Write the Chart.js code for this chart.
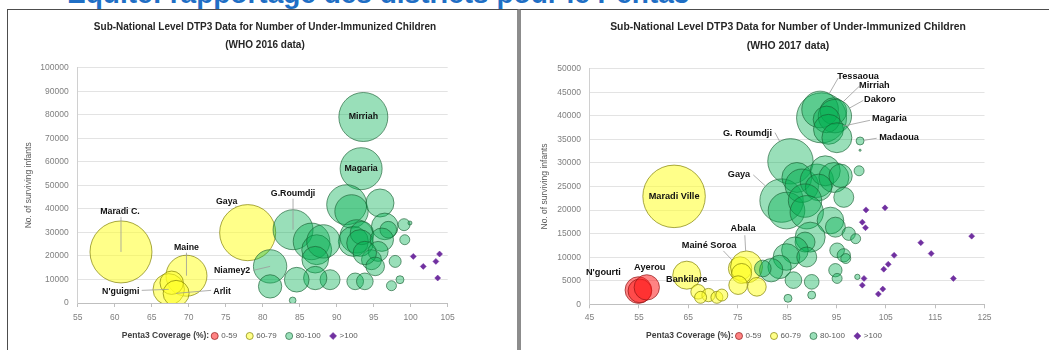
<!DOCTYPE html>
<html lang="fr">
<head>
<meta charset="utf-8">
<title>Penta3 – districts</title>
<script src="https://cdn.jsdelivr.net/npm/chart.js@4.4.1/dist/chart.umd.min.js"></script>
<style>
  html, body { margin: 0; padding: 0; background: #fff; }
  body { width: 1049px; height: 350px; overflow: hidden; position: relative; }
  #headline { position: absolute; left: 67px; top: -20px; margin: 0; font: bold 28px/28px 'Liberation Sans', Arial, sans-serif; color: #1f6fc5; white-space: nowrap; }
  .frame { position: absolute; top: 9px; height: 400px; box-sizing: border-box; }
  #frame16 { left: 7px; width: 512px; border: 1px solid #4d4d4d; border-right: 2px solid #8c8c8c; }
  #frame17 { left: 519px; width: 600px; border: 1px solid #4d4d4d; border-left: 2px solid #8c8c8c; }
  canvas { position: absolute; top: 10px; }
  #c2016 { left: 8px; }
  #c2017 { left: 523px; }
</style>
</head>
<body>
<h1 id="headline">Equité: rapportage des districts pour le Penta3</h1>
<div class="frame" id="frame16"></div>
<div class="frame" id="frame17"></div>
<canvas id="c2016" width="509" height="340"></canvas>
<canvas id="c2017" width="526" height="340"></canvas>
<script>
const FONT = "'Liberation Sans', Arial, sans-serif";

// Shared texts
const seriesNames = ['0-59', '60-79', '80-100', '>100'];
const xAxisCaption = 'Penta3 Coverage (%):';
const yAxisTitle = 'No. of surviving infants';

// ---------- 2016 ----------
const title2016 = ['Sub-National Level DTP3 Data for Number of Under-Immunized Children', '(WHO 2016 data)'];
const xTicks2016 = [55, 60, 65, 70, 75, 80, 85, 90, 95, 100, 105];
const yTicks2016 = [0, 10000, 20000, 30000, 40000, 50000, 60000, 70000, 80000, 90000, 100000];

// rows: [Penta3 coverage %, surviving infants, under-immunized children, district]
const red2016 = [];
const yellow2016 = [
  [60.85, 21700, 8560, 'Maradi C.'],
  [69.7, 11600, 3740, 'Maine'],
  [67.3, 5800, 2200, "N'guigmi"],
  [67.7, 8600, 1220],
  [68.3, 4100, 1500, 'Arlit'],
  [77.97, 29900, 7000, 'Gaya']
];
const green2016 = [
  [93.6, 79050, 5350, 'Mirriah'],
  [93.3, 57080, 3930, 'Magaria'],
  [91.35, 41780, 3560],
  [92.0, 38930, 2480],
  [95.85, 42500, 1750],
  [92.7, 28300, 2480],
  [92.25, 26180, 2000],
  [93.4, 29750, 1215],
  [93.15, 25500, 1580],
  [96.5, 32560, 1580],
  [96.97, 31150, 620],
  [96.1, 26900, 1215],
  [95.6, 21930, 890],
  [94.7, 18400, 890],
  [93.8, 21250, 1215],
  [95.2, 15560, 775],
  [97.9, 17680, 320],
  [99.1, 33280, 320],
  [99.2, 26900, 222],
  [99.9, 34000, 35],
  [98.55, 9900, 142],
  [97.4, 7350, 222],
  [92.5, 9200, 620],
  [93.8, 9200, 620],
  [84.1, 31150, 3560, 'G.Roumdji'],
  [86.6, 26180, 2990],
  [87.3, 22650, 2000],
  [88.2, 26180, 2480],
  [87.1, 18400, 1580],
  [89.1, 9900, 890],
  [87.1, 10620, 1215],
  [84.6, 9900, 1360],
  [81.0, 15560, 2480, 'Niamey2'],
  [81.0, 7060, 1215],
  [84.05, 1100, 100]
];
// rows: [Penta3 coverage %, surviving infants]
const purple2016 = [
  [100.35, 19800], [101.7, 15560], [103.4, 17680], [103.9, 20820], [103.65, 10620]
];

// ---------- 2017 ----------
const title2017 = ['Sub-National Level DTP3 Data for Number of Under-Immunized Children', '(WHO 2017 data)'];
const xTicks2017 = [45, 55, 65, 75, 85, 95, 105, 115, 125];
const yTicks2017 = [0, 5000, 10000, 15000, 20000, 25000, 30000, 35000, 40000, 45000, 50000];

const red2017 = [
  [54.9, 3020, 1580, "N'gourti"],
  [55.2, 2850, 1250],
  [56.6, 3590, 1430, 'Ayerou']
];
const yellow2017 = [
  [62.13, 22910, 8700, 'Maradi Ville'],
  [64.7, 6180, 1750, 'Bankilare'],
  [67.0, 2660, 475],
  [69.1, 1960, 395],
  [67.5, 1480, 320],
  [70.8, 1480, 320],
  [71.8, 1960, 320],
  [75.5, 7600, 1215, 'Mainé Soroa'],
  [76.8, 7930, 2280, 'Abala'],
  [75.8, 6540, 890],
  [75.1, 4070, 775],
  [78.9, 3710, 775]
];
const green2017 = [
  [92.0, 39580, 5570],
  [91.7, 41360, 2990, 'Tessaoua'],
  [94.4, 41000, 1580, 'Mirriah'],
  [94.7, 39940, 2480, 'Dakoro'],
  [93.0, 39250, 1580],
  [93.4, 37140, 2000, 'Magaria'],
  [95.1, 35360, 2000],
  [99.8, 34670, 142, 'Madaoua'],
  [99.8, 32700, 10],
  [85.7, 30350, 4590, 'G. Roumdji'],
  [83.9, 22010, 4200, 'Gaya'],
  [84.9, 19900, 2990],
  [87.0, 26920, 2000],
  [88.0, 25170, 2480],
  [91.05, 26230, 2480],
  [92.75, 28340, 2000],
  [94.5, 26920, 2000],
  [95.85, 27280, 1215],
  [91.4, 24810, 1580],
  [88.65, 22010, 2480],
  [89.0, 19540, 2480],
  [96.5, 22700, 890],
  [93.8, 17790, 1580],
  [94.8, 16370, 890],
  [97.5, 14980, 395],
  [98.9, 13930, 222],
  [99.6, 28340, 222],
  [89.7, 14260, 2000],
  [88.65, 13210, 890],
  [86.6, 11460, 1580],
  [84.9, 10040, 1580],
  [89.0, 10040, 890],
  [83.5, 7930, 1215],
  [81.8, 7240, 1215],
  [80.1, 7600, 620],
  [86.3, 5130, 620],
  [90.0, 4770, 480],
  [85.2, 1270, 142],
  [90.0, 1960, 142],
  [95.15, 11460, 480],
  [96.5, 10400, 395],
  [96.9, 9710, 222],
  [94.8, 7240, 395],
  [95.15, 5490, 222],
  [99.25, 5820, 63]
];
const purple2017 = [
  [101.0, 20040], [104.85, 20470], [100.25, 17430], [100.9, 16250],
  [112.1, 13080], [114.2, 10760], [106.7, 10400], [105.5, 8500],
  [104.6, 7450], [100.6, 5490], [100.25, 4070], [104.4, 3230],
  [103.5, 2170], [118.7, 5490], [122.4, 14470]
];

// Label placement (pixel offsets from the bubble centre; lead = start of leader line)
const placement2016 = {
  'Maradi C.': { dx: -1, dy: -40, lead: [0, -35] },
  'Maine': { dx: 0, dy: -28, lead: [0, -23] },
  "N'guigmi": { dx: -48, dy: 2.5, lead: [-27, 1] },
  'Arlit': { dx: 46, dy: -1.5, lead: [35, -3] },
  'Gaya': { dx: -21, dy: -31, lead: [-12, -27], edge: true },
  'Mirriah': { dx: 0, dy: 0 },
  'Magaria': { dx: 0, dy: 0 },
  'G.Roumdji': { dx: 0, dy: -36, lead: [0, -31] },
  'Niamey2': { dx: -38, dy: 4, lead: [-17, 4] }
};
const placement2017 = {
  'Maradi Ville': { dx: 0, dy: 0 },
  'Bankilare': { dx: 0, dy: 4 },
  "N'gourti": { dx: -35, dy: -18 },
  'Ayerou': { dx: 3, dy: -20 },
  'Mainé Soroa': { dx: -31, dy: -22.6, lead: [-16.7, -17.6], edge: true },
  'Abala': { dx: -3.4, dy: -38.4, lead: [-1.7, -31.7], edge: true },
  'G. Roumdji': { dx: -43, dy: -27.7, lead: [-15.5, -28.7], edge: true },
  'Gaya': { dx: -42.6, dy: -25.7, lead: [-28.3, -25.7], edge: true },
  'Tessaoua': { dx: 38, dy: -33.3, lead: [18.2, -31.6], edge: true },
  'Mirriah': { dx: 41, dy: -26, lead: [26, -25], edge: true },
  'Dakoro': { dx: 45, dy: -16.7, lead: [28.4, -15.7], edge: true },
  'Magaria': { dx: 61, dy: -11, lead: [41.5, -9], edge: true },
  'Madaoua': { dx: 39, dy: -4, lead: [16.6, -2.7], edge: true }
};

// Bubble area proportional to the number of under-immunized children
const SIZE_K = 0.335;

const seriesStyles = [
  { bg: 'rgba(255,30,30,0.55)', border: 'rgba(140,20,20,0.85)', style: 'circle' },
  { bg: 'rgba(255,255,40,0.55)', border: 'rgba(125,125,0,0.85)', style: 'circle' },
  { bg: 'rgba(0,176,80,0.4)', border: 'rgba(25,95,50,0.8)', style: 'circle' },
  { bg: '#7030A0', border: '#7030A0', style: 'rectRot' }
];

function makeDatasets(rowsList) {
  return rowsList.map((rows, k) => {
    const st = seriesStyles[k];
    const marker = k === 3;
    return {
      label: seriesNames[k],
      data: rows.map(r => marker ? { x: r[0], y: r[1] } : { x: r[0], y: r[1], r: SIZE_K * Math.sqrt(r[2]) }),
      backgroundColor: st.bg,
      borderColor: st.border,
      borderWidth: marker ? 0.5 : 0.8,
      pointStyle: st.style,
      radius: 3,
      order: 4 - k
    };
  });
}

function makeLabelItems(rowsList, placement) {
  const items = [];
  rowsList.forEach((rows, ds) => rows.forEach((row, i) => {
    const name = row[3];
    if (name && placement[name]) items.push(Object.assign({ ds, i, text: name }, placement[name]));
  }));
  return items;
}

// Draws the x-axis caption on the legend row, keeping caption + legend centred together
const legendCaption = {
  id: 'legendCaption',
  afterLayout(chart, args, o) {
    const lg = chart.legend;
    if (!lg || !lg.lineWidths) return;
    const ctx = chart.ctx;
    ctx.save(); ctx.font = o.font; const tw = ctx.measureText(o.text).width; ctx.restore();
    const pad = lg.options.labels.padding;
    const itemsW = lg.lineWidths[0] - pad;
    const groupW = tw + o.gap + itemsW;
    const centre = (chart.chartArea.left + chart.chartArea.right) / 2 + o.shift;
    const wantLeft = centre - groupW / 2 + tw + o.gap;
    const nowLeft = (lg.left + lg.right) / 2 - itemsW / 2;
    const dx = wantLeft - nowLeft;
    lg.left += dx; lg.right += dx;
  },
  afterDraw(chart, args, o) {
    const lg = chart.legend;
    const hb = lg && lg.legendHitBoxes && lg.legendHitBoxes[0];
    if (!hb) return;
    const ctx = chart.ctx;
    ctx.save();
    ctx.font = o.font; ctx.fillStyle = o.color;
    ctx.textAlign = 'right'; ctx.textBaseline = 'middle';
    ctx.fillText(o.text, hb.left - o.gap, hb.top + hb.height / 2);
    ctx.restore();
  }
};

// District names next to their bubbles, with optional leader lines
const pointLabels = {
  id: 'pointLabels',
  afterDatasetsDraw(chart, args, o) {
    const ctx = chart.ctx;
    ctx.save();
    ctx.font = o.font; ctx.fillStyle = o.color;
    ctx.textAlign = 'center'; ctx.textBaseline = 'middle';
    ctx.strokeStyle = o.leadColor; ctx.lineWidth = o.leadWidth;
    for (const it of o.items) {
      const el = chart.getDatasetMeta(it.ds).data[it.i];
      if (!el) continue;
      const px = el.x, py = el.y, r = el.options.radius;
      if (it.lead) {
        const sx = px + it.lead[0], sy = py + it.lead[1];
        let ex = px, ey = py;
        if (it.edge) {
          const d = Math.hypot(sx - px, sy - py) || 1;
          ex = px + (sx - px) / d * r; ey = py + (sy - py) / d * r;
        }
        ctx.beginPath(); ctx.moveTo(sx, sy); ctx.lineTo(ex, ey); ctx.stroke();
      }
      ctx.fillText(it.text, px + it.dx, py + it.dy);
    }
    ctx.restore();
  }
};

function buildChart(id, c) {
  return new Chart(document.getElementById(id), {
    type: 'bubble',
    data: { datasets: makeDatasets(c.rows) },
    options: {
      responsive: false,
      animation: false,
      events: [],
      layout: { padding: { left: c.padLeft, right: 0, top: 0, bottom: 0 } },
      plugins: {
        title: {
          display: true, text: c.title, color: '#262626',
          font: { family: FONT, size: c.titleSize, weight: 'bold', lineHeight: 1.8 },
          padding: { top: 8, bottom: c.titleGap }
        },
        legend: {
          position: 'bottom',
          labels: {
            usePointStyle: true, boxWidth: 5, boxHeight: 5, padding: 10, color: '#595959',
            font: { family: FONT, size: 8 },
            sort: (a, b) => a.datasetIndex - b.datasetIndex
          }
        },
        tooltip: { enabled: false },
        legendCaption: { text: xAxisCaption, font: 'bold 8.5px ' + FONT, color: '#404040', gap: 3, shift: -23 },
        pointLabels: { items: makeLabelItems(c.rows, c.placement), font: 'bold ' + c.labelSize + 'px ' + FONT, color: '#111', leadColor: '#9a9a9a', leadWidth: 0.8 }
      },
      scales: {
        x: {
          type: 'linear', min: c.xTicks[0], max: c.xTicks[c.xTicks.length - 1],
          afterBuildTicks: a => { a.ticks = c.xTicks.map(v => ({ value: v })); },
          ticks: { color: '#7f7f7f', font: { family: FONT, size: 8.5 }, padding: c.xTickPad, maxRotation: 0, autoSkip: false, callback: v => String(v) },
          grid: { drawOnChartArea: false, drawTicks: true, tickLength: 4, color: '#bfbfbf' },
          border: { color: '#bfbfbf' },
          afterFit: s => { s.height = c.xAxisHeight; }
        },
        y: {
          type: 'linear', min: 0, max: c.yTicks[c.yTicks.length - 1],
          afterBuildTicks: a => { a.ticks = c.yTicks.map(v => ({ value: v })); },
          ticks: { color: '#7f7f7f', font: { family: FONT, size: 8.5 }, padding: c.yTickPad, callback: v => String(v) },
          grid: { color: '#dcdcdc', drawTicks: false, lineWidth: 0.8 },
          border: { display: true, color: '#d0d0d0' },
          title: { display: true, text: yAxisTitle, color: '#595959', font: { family: FONT, size: 8.5 }, padding: { top: c.yTitlePad, bottom: 0 } },
          afterFit: s => { s.width = c.yAxisWidth; }
        },
        y2: {
          position: 'right', display: true,
          grid: { display: false }, border: { display: false }, ticks: { display: false },
          afterFit: s => { s.width = c.rightGap; }
        }
      }
    },
    plugins: [legendCaption, pointLabels]
  });
}

buildChart('c2016', {
  rows: [red2016, yellow2016, green2016, purple2016],
  placement: placement2016,
  title: title2016, titleSize: 10, titleGap: 13.7, labelSize: 8.8,
  xTicks: xTicks2016, yTicks: yTicks2016,
  padLeft: 5, yAxisWidth: 64.7, rightGap: 69.3, yTickPad: 9, yTitlePad: 11,
  xTickPad: 6, xAxisHeight: 19
});

buildChart('c2017', {
  rows: [red2017, yellow2017, green2017, purple2017],
  placement: placement2017,
  title: title2017, titleSize: 10.4, titleGap: 13.3, labelSize: 9.2,
  xTicks: xTicks2017, yTicks: yTicks2017,
  padLeft: 4, yAxisWidth: 62.5, rightGap: 64.5, yTickPad: 8.5, yTitlePad: 13,
  xTickPad: 4.5, xAxisHeight: 17.7
});
</script>
</body>
</html>
